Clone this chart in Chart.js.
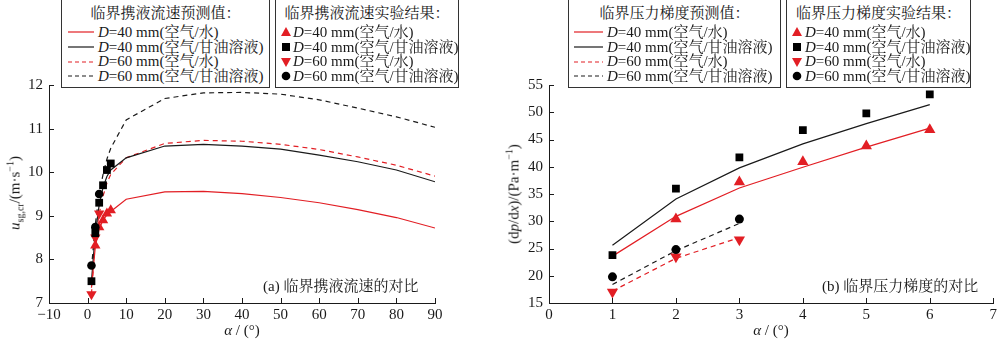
<!DOCTYPE html>
<html>
<head>
<meta charset="utf-8">
<script src="https://cdn.jsdelivr.net/npm/chart.js@4.4.1/dist/chart.umd.min.js"></script>
<style>
  body { margin: 0; background: #fff; width: 1000px; height: 340px; position: relative; overflow: hidden;
         font-family: "Liberation Serif", "Noto Serif CJK SC", "Noto Sans CJK SC", serif; color: #1a1a1a; }
  canvas { position: absolute; top: 0; }
  #chartA { left: 0; }
  #chartB { left: 500px; }
  .legend { position: absolute; top: -2px; height: 90px; border: 1px solid #333; background: #fff;
            box-sizing: border-box; font-size: 15px; }
  .legend .title { height: 18px; line-height: 18px; margin-top: 5px; text-align: center; white-space: nowrap; }
  .legend .rows { margin-top: 3px; }
  .legend .row { display: flex; align-items: center; height: 14.7px; line-height: 14.7px; white-space: nowrap; }
  .legend svg { flex: none; }
  .ytitle { position: absolute; font-size: 15px; white-space: nowrap; transform: translate(-50%, -50%) rotate(-90deg); }
  .xtitle { position: absolute; font-size: 15px; white-space: nowrap; transform: translate(-50%, -50%); }
  .caption { position: absolute; font-size: 15px; white-space: nowrap; }
  sub, sup { font-size: 10px; line-height: 0; }
</style>
</head>
<body>
<canvas id="chartA" width="500" height="340"></canvas>
<canvas id="chartB" width="500" height="340"></canvas>

<div class="legend" style="left:61px;width:209px">
  <div class="title">临界携液流速预测值：</div>
  <div class="rows" style="padding-left:6px">
    <div class="row"><svg width="30" height="6"><line x1="0" y1="3" x2="26" y2="3" stroke="rgb(226,30,36)" stroke-width="1.2"/></svg><span><i>D</i>=40 mm(空气/水)</span></div>
    <div class="row"><svg width="30" height="6"><line x1="0" y1="3" x2="26" y2="3" stroke="#1a1a1a" stroke-width="1.2"/></svg><span><i>D</i>=40 mm(空气/甘油溶液)</span></div>
    <div class="row"><svg width="30" height="6"><line x1="0" y1="3" x2="26" y2="3" stroke="rgb(226,30,36)" stroke-width="1.2" stroke-dasharray="4 3"/></svg><span><i>D</i>=60 mm(空气/水)</span></div>
    <div class="row"><svg width="30" height="6"><line x1="0" y1="3" x2="26" y2="3" stroke="#1a1a1a" stroke-width="1.2" stroke-dasharray="4 3"/></svg><span><i>D</i>=60 mm(空气/甘油溶液)</span></div>
  </div>
</div>
<div class="legend" style="left:275px;width:184px">
  <div class="title">临界携液流速实验结果：</div>
  <div class="rows" style="padding-left:4px">
    <div class="row"><svg width="13" height="12"><polygon points="6,1 11,10 1,10" fill="rgb(226,30,36)"/></svg><span><i>D</i>=40 mm(空气/水)</span></div>
    <div class="row"><svg width="13" height="12"><rect x="2" y="2" width="8" height="8" fill="#000"/></svg><span><i>D</i>=40 mm(空气/甘油溶液)</span></div>
    <div class="row"><svg width="13" height="12"><polygon points="1,2 11,2 6,11" fill="rgb(226,30,36)"/></svg><span><i>D</i>=60 mm(空气/水)</span></div>
    <div class="row"><svg width="13" height="12"><circle cx="6" cy="6" r="4.3" fill="#000"/></svg><span><i>D</i>=60 mm(空气/甘油溶液)</span></div>
  </div>
</div>
<div class="legend" style="left:568px;width:213px">
  <div class="title">临界压力梯度预测值：</div>
  <div class="rows" style="padding-left:5px">
    <div class="row"><svg width="33" height="6"><line x1="0" y1="3" x2="29" y2="3" stroke="rgb(226,30,36)" stroke-width="1.2"/></svg><span><i>D</i>=40 mm(空气/水)</span></div>
    <div class="row"><svg width="33" height="6"><line x1="0" y1="3" x2="29" y2="3" stroke="#1a1a1a" stroke-width="1.2"/></svg><span><i>D</i>=40 mm(空气/甘油溶液)</span></div>
    <div class="row"><svg width="33" height="6"><line x1="0" y1="3" x2="29" y2="3" stroke="rgb(226,30,36)" stroke-width="1.2" stroke-dasharray="4 3"/></svg><span><i>D</i>=60 mm(空气/水)</span></div>
    <div class="row"><svg width="33" height="6"><line x1="0" y1="3" x2="29" y2="3" stroke="#1a1a1a" stroke-width="1.2" stroke-dasharray="4 3"/></svg><span><i>D</i>=60 mm(空气/甘油溶液)</span></div>
  </div>
</div>
<div class="legend" style="left:786px;width:185px">
  <div class="title">临界压力梯度实验结果：</div>
  <div class="rows" style="padding-left:4px">
    <div class="row"><svg width="14" height="12"><polygon points="6,1 11,10 1,10" fill="rgb(226,30,36)"/></svg><span><i>D</i>=40 mm(空气/水)</span></div>
    <div class="row"><svg width="14" height="12"><rect x="2" y="2" width="8" height="8" fill="#000"/></svg><span><i>D</i>=40 mm(空气/甘油溶液)</span></div>
    <div class="row"><svg width="14" height="12"><polygon points="1,2 11,2 6,11" fill="rgb(226,30,36)"/></svg><span><i>D</i>=60 mm(空气/水)</span></div>
    <div class="row"><svg width="14" height="12"><circle cx="6" cy="6" r="4.3" fill="#000"/></svg><span><i>D</i>=60 mm(空气/甘油溶液)</span></div>
  </div>
</div>

<div class="ytitle" style="left:15px;top:193px"><i>u</i><sub>sg,cr</sub>/(m·s<sup>−1</sup>)</div>
<div class="ytitle" style="left:514px;top:194px">(d<i>p</i>/d<i>x</i>)/(Pa·m<sup>−1</sup>)</div>
<div class="xtitle" style="left:242px;top:330px"><i>α</i> / (°)</div>
<div class="xtitle" style="left:771px;top:330px"><i>α</i> / (°)</div>
<div class="caption" style="left:263px;top:274px">(a) 临界携液流速的对比</div>
<div class="caption" style="left:822px;top:274px">(b) 临界压力梯度的对比</div>

<script>
// (a) critical liquid-carrying velocity, model curves
const alphaModel = [1, 2, 3, 4, 5, 6, 10, 20, 30, 40, 50, 60, 70, 80, 90];
const uModelD40Water = [7.35, 8.3, 8.7, 8.9, 9.02, 9.1, 9.38, 9.55, 9.56, 9.51, 9.42, 9.3, 9.14, 8.96, 8.72];
const uModelD40Gly = [7.5, 8.6, 9.25, 9.65, 9.9, 10.05, 10.33, 10.6, 10.64, 10.6, 10.53, 10.39, 10.24, 10.05, 9.78];
const uModelD60Water = [7.2, 8.45, 9.05, 9.45, 9.75, 9.95, 10.33, 10.66, 10.73, 10.71, 10.64, 10.52, 10.35, 10.16, 9.91];
const uModelD60Gly = [7.8, 8.8, 9.5, 9.95, 10.3, 10.55, 11.2, 11.69, 11.82, 11.83, 11.79, 11.66, 11.47, 11.27, 11.03];

// (a) experiments
const alphaExpD40Water = [2, 3, 4, 5, 6];
const alphaExpD40Gly = [1, 2, 3, 4, 5, 6];
const alphaExpD60 = [1, 2, 3];
const uExpD40Water = [8.32, 8.74, 8.9, 9.05, 9.13];
const uExpD40Gly = [7.5, 8.6, 9.3, 9.7, 10.05, 10.2];
const uExpD60Water = [7.2, 8.5, 9.05];
const uExpD60Gly = [7.86, 8.74, 9.5];

// (b) critical pressure gradient
const alphaB40 = [1, 2, 3, 4, 5, 6];
const alphaB40Water = [2, 3, 4, 5, 6];
const alphaB60 = [1, 2, 3];
const dpModelD40Water = [23.6, 30.9, 36.1, 39.9, 43.6, 47.1];
const dpModelD40Gly = [25.6, 34.1, 39.8, 44.2, 47.9, 51.4];
const dpModelD60Water = [17.2, 23.2, 27.0];
const dpModelD60Gly = [18.4, 24.6, 29.6];
const dpExpD40Water = [30.4, 37.2, 40.9, 43.8, 46.8];
const dpExpD40Gly = [23.8, 36.0, 41.7, 46.7, 49.8, 53.3];
const dpExpD60Water = [17.0, 23.5, 26.6];
const dpExpD60Gly = [19.8, 24.8, 30.4];

// tick labels
const xTicksA = [-10, 0, 10, 20, 30, 40, 50, 60, 70, 80, 90];
const yTicksA = [7, 8, 9, 10, 11, 12];
const xTicksB = [0, 1, 2, 3, 4, 5, 6, 7];
const yTicksB = [15, 20, 25, 30, 35, 40, 45, 50, 55];

const RED = 'rgb(226,30,36)';
const BLK = '#1a1a1a';
const tickFont = { family: 'Liberation Serif', size: 15 };

function pts(xs, ys) {
    return xs.map((x, i) => ({ x: x, y: ys[i] }));
}

function lineSet(xs, ys, color, dashed) {
    return {
        data: pts(xs, ys),
        showLine: true,
        borderColor: color,
        borderWidth: 1.2,
        borderDash: dashed ? [5, 4] : [],
        pointRadius: 0,
        fill: false,
        tension: 0
    };
}

function markSet(xs, ys, color, style, radius, rotation) {
    return {
        data: pts(xs, ys),
        showLine: false,
        pointStyle: style,
        pointRadius: radius,
        pointRotation: rotation || 0,
        backgroundColor: color,
        borderColor: color,
        borderWidth: 0
    };
}

// short tick marks pointing into the plot area
const innerTicks = {
    id: 'innerTicks',
    afterDraw(chart) {
        const { ctx, chartArea, scales } = chart;
        ctx.save();
        ctx.strokeStyle = BLK;
        ctx.lineWidth = 1;
        scales.x.ticks.forEach((t, i) => {
            const px = Math.round(scales.x.getPixelForTick(i)) + 0.5;
            ctx.beginPath();
            ctx.moveTo(px, chartArea.bottom);
            ctx.lineTo(px, chartArea.bottom - 5);
            ctx.stroke();
        });
        scales.y.ticks.forEach((t, i) => {
            const py = Math.round(scales.y.getPixelForTick(i)) + 0.5;
            ctx.beginPath();
            ctx.moveTo(chartArea.left, py);
            ctx.lineTo(chartArea.left + 5, py);
            ctx.stroke();
        });
        ctx.restore();
    }
};

function axis(min, max, ticks, fit, pad) {
    return {
        type: 'linear',
        min: min,
        max: max,
        afterBuildTicks: s => { s.ticks = ticks.map(v => ({ value: v })); },
        afterFit: fit,
        grid: { display: false, drawTicks: false },
        border: { display: true, color: BLK, width: 1 },
        ticks: {
            font: tickFont,
            color: BLK,
            padding: pad,
            callback: v => String(v).replace('-', '\u2212')
        }
    };
}

function baseOptions(padRight, xs, ys) {
    return {
        responsive: false,
        animation: false,
        devicePixelRatio: 1,
        layout: { padding: { left: 0, right: padRight, top: 85, bottom: 0 } },
        plugins: { legend: { display: false }, tooltip: { enabled: false } },
        scales: {
            x: axis(xs[0], xs[xs.length - 1], xs, s => { s.height = 37; }, 3),
            y: axis(ys[0], ys[ys.length - 1], ys, s => { s.width = 49; }, 6)
        }
    };
}

new Chart(document.getElementById('chartA').getContext('2d'), {
    type: 'scatter',
    data: {
        datasets: [
            markSet(alphaExpD40Gly, uExpD40Gly, '#000', 'rect', 5.5),
            markSet(alphaExpD60, uExpD60Gly, '#000', 'circle', 4.3),
            markSet(alphaExpD40Water, uExpD40Water, RED, 'triangle', 6),
            markSet(alphaExpD60, uExpD60Water, RED, 'triangle', 6, 180),
            lineSet(alphaModel, uModelD40Water, RED, false),
            lineSet(alphaModel, uModelD40Gly, BLK, false),
            lineSet(alphaModel, uModelD60Water, RED, true),
            lineSet(alphaModel, uModelD60Gly, BLK, true)
        ]
    },
    options: baseOptions(65, xTicksA, yTicksA),
    plugins: [innerTicks]
});

new Chart(document.getElementById('chartB').getContext('2d'), {
    type: 'scatter',
    data: {
        datasets: [
            markSet(alphaB40, dpExpD40Gly, '#000', 'rect', 5.5),
            markSet(alphaB60, dpExpD60Gly, '#000', 'circle', 4.5),
            markSet(alphaB40Water, dpExpD40Water, RED, 'triangle', 6.5),
            markSet(alphaB60, dpExpD60Water, RED, 'triangle', 6.5, 180),
            lineSet(alphaB40, dpModelD40Water, RED, false),
            lineSet(alphaB40, dpModelD40Gly, BLK, false),
            lineSet(alphaB60, dpModelD60Water, RED, true),
            lineSet(alphaB60, dpModelD60Gly, BLK, true)
        ]
    },
    options: baseOptions(6, xTicksB, yTicksB),
    plugins: [innerTicks]
});
</script>
</body>
</html>
